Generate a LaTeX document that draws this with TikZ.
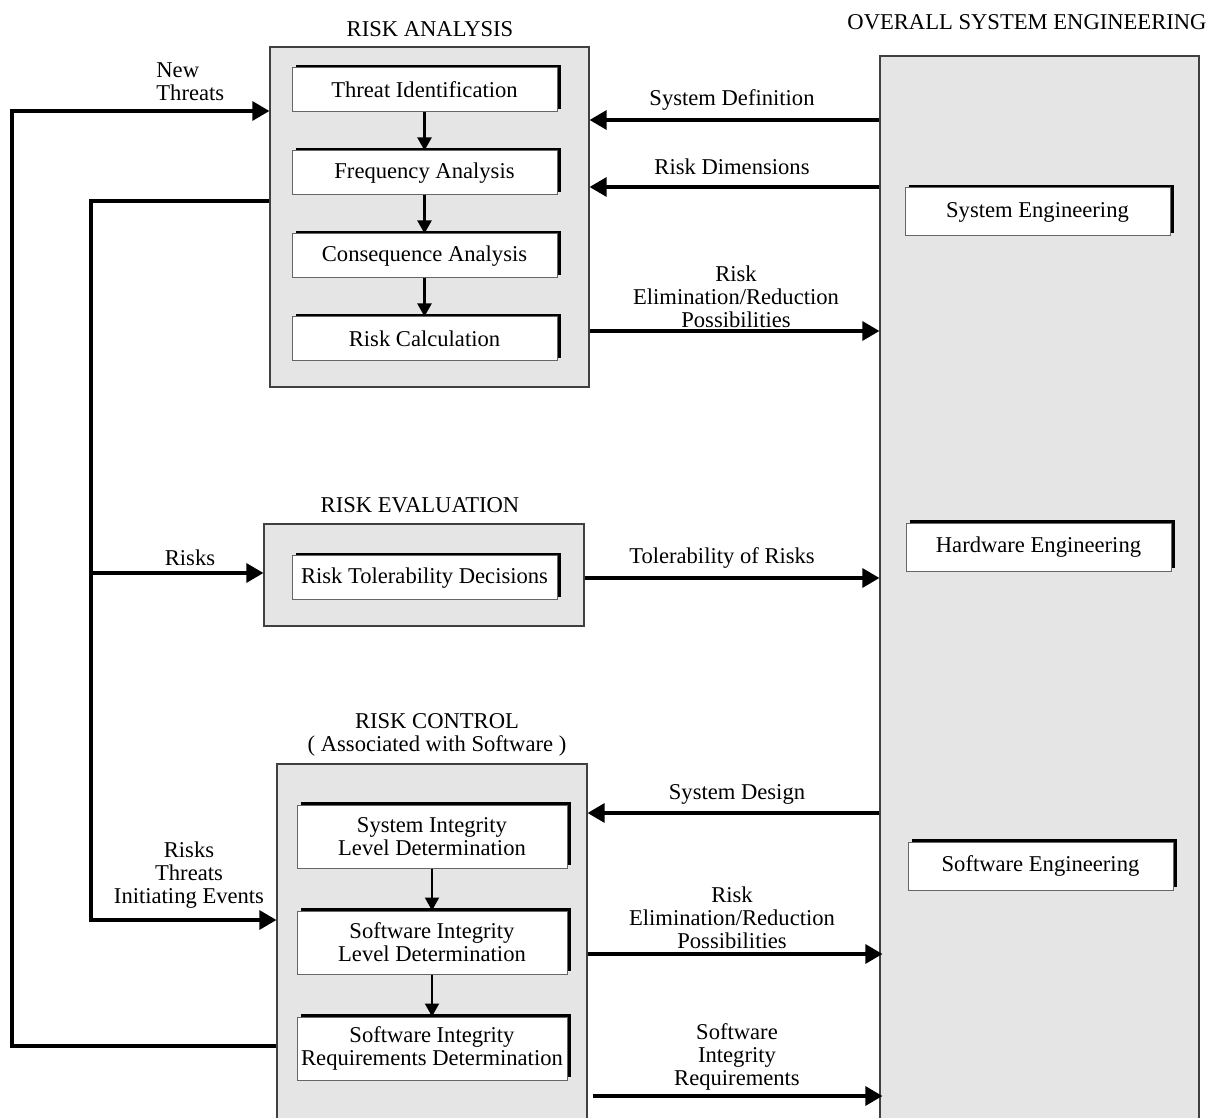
\documentclass[tikz,border=0pt]{standalone}
\usepackage{fontspec}
\setmainfont{Liberation Serif}
\usetikzlibrary{positioning, arrows.meta, shadows}

\begin{document}
\begin{tikzpicture}[
  x=0.5pt, y=-0.5pt,
  font=\fontsize{11.3}{11.5}\selectfont,
  grp/.style={rectangle, draw=black!75, fill=black!10, line width=0.6pt, inner sep=0pt},
  box/.style={rectangle, draw=black!60, fill=white, line width=0.5pt, text centered, align=center, minimum width=132.5pt, minimum height=22pt, inner sep=2pt,
    drop shadow={shadow xshift=1.8pt, shadow yshift=1.5pt, fill=black, opacity=1}},
  lbl/.style={align=center, inner sep=0pt},
  arrow/.style={-{Triangle[length=8.5pt, width=9.5pt]}, line width=1.6pt},
  flow/.style={-{Triangle[length=6.5pt, width=7pt]}, line width=1.1pt}
]
\useasboundingbox (0,0) rectangle (1212,1118);

% Group frames
\node[grp, minimum width=159.5pt, minimum height=170pt] (ana) at (429.5,217) {};
\node[grp, minimum width=160pt, minimum height=51pt] (eva) at (424,575) {};
\node[grp, minimum width=155pt, minimum height=188pt] (ctl) at (432,952) {};
\node[grp, minimum width=159.5pt, minimum height=542pt] (ose) at (1039.5,598) {};

% Titles
\node[lbl] (anatitle) at (430,29) {RISK ANALYSIS};
\node[lbl] (evatitle) at (420,505) {RISK EVALUATION};
\node[lbl] (ctltitle) at (437,735) {RISK CONTROL\\( Associated with Software )};
\node[lbl] (osetitle) at (1027,22) {OVERALL SYSTEM ENGINEERING};

% Risk analysis
\node[box] (thr) at (424.5,90) {Threat Identification};
\node[box, below=19pt of thr] (freq) {Frequency Analysis};
\node[box, below=19pt of freq] (cons) {Consequence Analysis};
\node[box, below=19pt of cons] (calc) {Risk Calculation};
\draw[flow] (thr) -- (freq);
\draw[flow] (freq) -- (cons);
\draw[flow] (cons) -- (calc);

% Risk evaluation
\node[box] (tol) at (424.5,578) {Risk Tolerability Decisions};

% Risk control
\node[box, minimum width=135pt, minimum height=31.5pt] (sil) at (432,836.5) {System Integrity\\Level Determination};
\node[box, minimum width=135pt, minimum height=31.5pt, below=21pt of sil] (swil) {Software Integrity\\Level Determination};
\node[box, minimum width=135pt, minimum height=31.5pt, below=21pt of swil] (swird) {Software Integrity\\Requirements Determination};
\draw[flow] (sil) -- (swil);
\draw[flow] (swil) -- (swird);

% Engineering
\node[box, minimum height=24pt] (syseng) at (1037.5,212) {System Engineering};
\node[box, minimum height=24pt] (hweng) at (1038.5,547.5) {Hardware Engineering};
\node[box, minimum height=24pt] (sweng) at (1040.5,866) {Software Engineering};

% Feedback on the left
\coordinate (outer) at (12,111);
\coordinate (inner) at (91,201);
\draw[arrow] (ctl.west |- 0,1046) -| (outer) -- (ana.west |- outer);
\draw[arrow] (ana.west |- inner) -- (inner) |- (ctl.west |- 0,920);
\draw[arrow] (inner |- 0,573) -- (eva.west |- 0,573);
\node[lbl, align=left, anchor=west] (newthr) at (156,82) {New\\Threats};
\node[lbl] (risks) at (190,558) {Risks};
\node[lbl] (rti) at (189,875) {Risks\\Threats\\Initiating Events};

% Links to system engineering
\draw[arrow] (ose.west |- 0,120) -- (ana.east |- 0,120);
\draw[arrow] (ose.west |- 0,187) -- (ana.east |- 0,187);
\draw[arrow] (ana.east |- 0,331) -- (ose.west |- 0,331);
\draw[arrow] (eva.east |- 0,578) -- (ose.west |- 0,578);
\draw[arrow] (ose.west |- 0,813) -- (ctl.east |- 0,813);
\draw[arrow] (ctl.east |- 0,954) -- ([xshift=1.5pt]ose.west |- 0,954);
\draw[arrow] ([xshift=2.5pt]ctl.east |- 0,1096) -- ([xshift=1.5pt]ose.west |- 0,1096);
\node[lbl] (sysdef) at (732,100) {System Definition};
\node[lbl] (riskdim) at (732,167) {Risk Dimensions};
\node[lbl] (elimA) at (736,297) {Risk\\Elimination/Reduction\\Possibilities};
\node[lbl] (toler) at (722,558) {Tolerability of Risks};
\node[lbl] (sysdes) at (737,794) {System Design};
\node[lbl] (elimB) at (732,918) {Risk\\Elimination/Reduction\\Possibilities};
\node[lbl] (sir) at (737,1057) {Software\\Integrity\\Requirements};
\end{tikzpicture}
\end{document}
